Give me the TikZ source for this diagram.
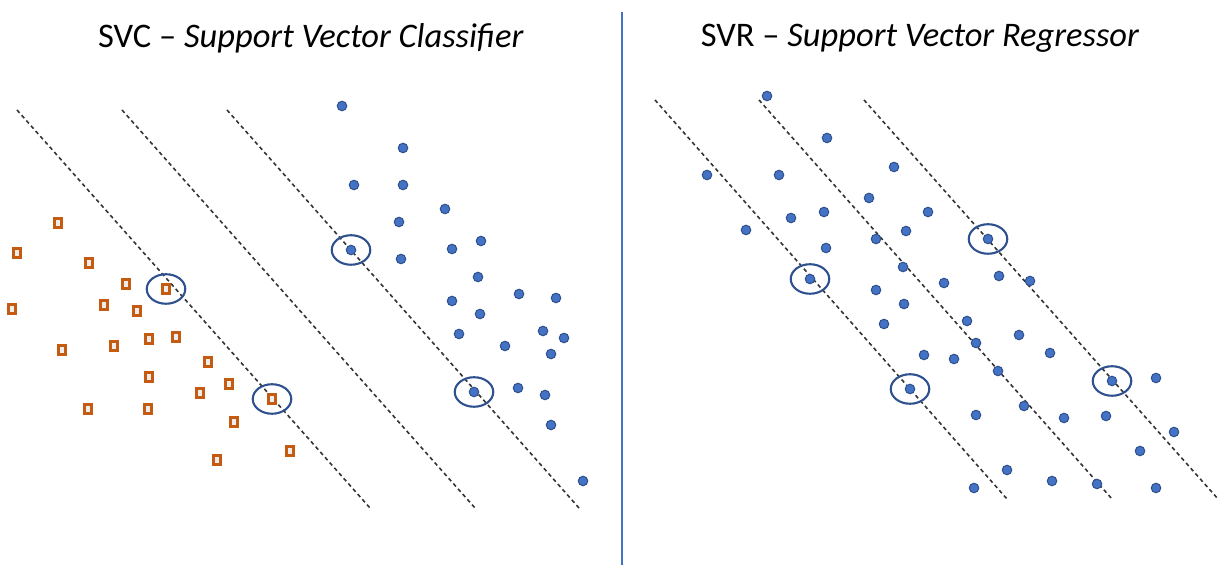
\documentclass[tikz,border=0pt]{standalone}
\usepackage{fontspec}
\setmainfont{Carlito}
\usetikzlibrary{shapes.geometric, positioning}

\definecolor{ptblue}{RGB}{68,114,196}
\definecolor{ptedge}{RGB}{47,82,143}
\definecolor{ptorange}{RGB}{197,90,17}

\begin{document}
\begin{tikzpicture}[x=0.01cm,y=-0.01cm]
	\tikzset{
		dot/.style={circle,fill=ptblue,draw=ptedge,line width=0.3pt,minimum size=0.095cm,inner sep=0pt},
		sq/.style={rectangle,fill=black!7,draw=ptorange,line width=0.6pt,minimum width=0.07cm,minimum height=0.09cm,inner sep=0pt},
		sv/.style={ellipse,draw=ptedge,line width=0.6pt,minimum width=0.385cm,minimum height=0.295cm,inner sep=0pt},
		margin/.style={black!80,line width=0.45pt,dash pattern=on 1.1pt off 0.9pt},
		title/.style={font=\fontsize{9.8}{12}\selectfont,inner sep=0pt}
	}
	\useasboundingbox (0,0) rectangle (1219,565);

	% titles and divider
	\node[title] (tsvc) at (311,38) {SVC -- \textit{Support Vector Classifier}};
	\node[title] (tsvr) at (920,38) {SVR -- \textit{Support Vector Regressor}};
	\coordinate (d1) at (622,12);
	\coordinate (d2) at (622,565);
	\draw[ptblue,line width=0.6pt] (d1) -- (d2);

	% classifier: margin lines
	\coordinate (ca1) at (17,110);  \coordinate (ca2) at (370,508);
	\coordinate (cb1) at (122,110); \coordinate (cb2) at (475,508);
	\coordinate (cc1) at (227,110); \coordinate (cc2) at (579,508);
	\draw[margin] (ca1) -- (ca2);
	\draw[margin] (cb1) -- (cb2);
	\draw[margin] (cc1) -- (cc2);

	% classifier: class one
	\foreach \p [count=\i] in {(58,223),(17,253),(89,263),(126,284),(166,289),(12,309),
		(104,305),(137,311),(62,350),(114,346),(149,339),(176,337),(208,362),(149,377),
		(229,384),(200,393),(88,409),(148,409),(272,399),(234,422),(290,451),(217,460)}
		\node[sq] (o\i) at \p {};

	% classifier: class two
	\foreach \p [count=\i] in {(342,106),(403,148),(354,185),(403,185),(445,209),(399,222),
		(351,250),(452,249),(481,241),(401,259),(478,277),(519,294),(556,298),(452,301),
		(480,314),(543,331),(564,338),(459,334),(505,346),(551,354),(474,392),(518,388),
		(545,395),(551,425),(583,481)}
		\node[dot] (c\i) at \p {};

	% classifier: support vectors
	\node[sv] (svc1) at (o5) {};
	\node[sv] (svc2) at (o19) {};
	\node[sv] (svc3) at (c7) {};
	\node[sv] (svc4) at (c21) {};

	% regressor: tube lines
	\coordinate (ra1) at (655,100); \coordinate (ra2) at (1007,499);
	\coordinate (rb1) at (759,100); \coordinate (rb2) at (1112,499);
	\coordinate (rc1) at (864,100); \coordinate (rc2) at (1218,499);
	\draw[margin] (ra1) -- (ra2);
	\draw[margin] (rb1) -- (rb2);
	\draw[margin] (rc1) -- (rc2);

	% regressor: samples
	\foreach \p [count=\i] in {(767,96),(827,138),(707,175),(779,175),(894,167),(869,198),
		(791,218),(824,212),(928,212),(746,230),(876,239),(906,231),(826,248),(903,267),
		(810,279),(876,290),(904,304),(884,324),(924,355),(910,389),(988,239),(944,283),
		(999,276),(1030,281),(967,321),(1019,335),(976,343),(1050,353),(954,359),(998,371),
		(1112,381),(1156,378),(976,415),(1024,406),(1064,418),(1106,416),(1174,432),
		(1140,451),(1007,470),(1052,481),(1097,484),(974,488),(1156,488)}
		\node[dot] (r\i) at \p {};

	% regressor: support vectors
	\node[sv] (svr1) at (r15) {};
	\node[sv] (svr2) at (r20) {};
	\node[sv] (svr3) at (r21) {};
	\node[sv] (svr4) at (r31) {};
\end{tikzpicture}
\end{document}
